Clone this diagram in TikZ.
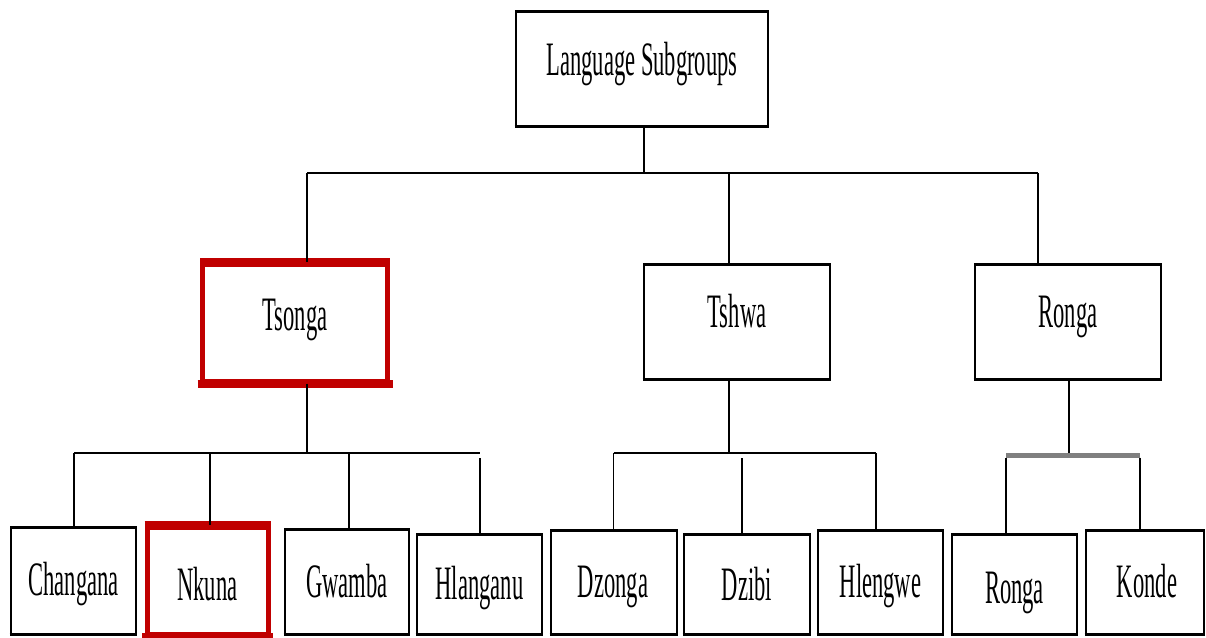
\documentclass[tikz,border=0pt]{standalone}
\usepackage{fontspec}
\setmainfont{Liberation Serif}[FakeStretch=0.47]
\usetikzlibrary{calc}
\definecolor{hired}{RGB}{192,0,0}
\definecolor{bargray}{RGB}{128,128,128}
\tikzset{
  box/.style={draw=black, line width=1.4pt, inner sep=0pt, fill=white},
  redbox/.style={draw=hired, line width=5pt, inner sep=0pt, fill=white},
  lbl/.style={anchor=base, inner sep=0pt, font=\fontsize{48}{52}\selectfont},
  vline/.style={line width=1.4pt},
  hline/.style={line width=2.8pt},
  boxedge/.style={line width=3pt, shorten <=-0.7pt, shorten >=-0.7pt},
  rededge/.style={draw=hired, line width=8pt, shorten <=-2.5pt, shorten >=-2.5pt},
}
\begin{document}
\begin{tikzpicture}[x=1pt, y=-1pt]
\useasboundingbox (0,0) rectangle (1206,637);
% level 1
\node[box, minimum width=252pt, minimum height=114pt] (root) at (642,69) {};
% level 2
\node[redbox, minimum width=185pt, minimum height=117pt] (tsonga) at (295,322.5) {};
\node[box, minimum width=186pt, minimum height=114pt] (tshwa) at (737,322) {};
\node[box, minimum width=186pt, minimum height=114pt] (ronga) at (1068,322) {};
% level 3
\node[box, minimum width=125pt, minimum height=106pt] (changana) at (73.5,581) {};
\node[redbox, minimum width=121pt, minimum height=107pt] (nkuna) at (207.5,580.5) {};
\node[box, minimum width=124pt, minimum height=104pt] (gwamba) at (347,582) {};
\node[box, minimum width=125pt, minimum height=99pt] (hlanganu) at (479.5,584.5) {};
\node[box, minimum width=126pt, minimum height=103pt] (dzonga) at (614,582.5) {};
\node[box, minimum width=126pt, minimum height=99pt] (dzibi) at (747,584.5) {};
\node[box, minimum width=125pt, minimum height=103pt] (hlengwe) at (880.5,582.5) {};
\node[box, minimum width=125pt, minimum height=99pt] (rongab) at (1014.5,584.5) {};
\node[box, minimum width=118pt, minimum height=103pt] (konde) at (1145,582.5) {};
% thicker top and bottom edges
\foreach \n in {root,tshwa,ronga,changana,gwamba,hlanganu,dzonga,dzibi,hlengwe,rongab,konde}
  \draw[boxedge] (\n.north west) -- (\n.north east) (\n.south west) -- (\n.south east);
\foreach \n in {tsonga,nkuna}
  \draw[rededge] (\n.north west) -- (\n.north east) (\n.south west) -- (\n.south east);
% labels
\node[lbl] (t-root) at (642,75) {Language Subgroups};
\node[lbl] (t-tsonga) at (295,330) {Tsonga};
\node[lbl] (t-tshwa) at (737,327) {Tshwa};
\node[lbl] (t-ronga) at (1068,327) {Ronga};
\node[lbl] (t-changana) at (73.5,595) {Changana};
\node[lbl] (t-nkuna) at (207.5,600) {Nkuna};
\node[lbl] (t-gwamba) at (347,597) {Gwamba};
\node[lbl] (t-hlanganu) at (479.5,599) {Hlanganu};
\node[lbl] (t-dzonga) at (613,597) {Dzonga};
\node[lbl] (t-dzibi) at (747,600) {Dzibi};
\node[lbl] (t-hlengwe) at (880.5,597) {Hlengwe};
\node[lbl] (t-rongab) at (1014.5,603) {Ronga};
\node[lbl] (t-konde) at (1147,597) {Konde};
% connectors: top level
\coordinate (c-root) at (644,173);
\coordinate (c-tsonga) at (307,173);
\coordinate (c-tshwa) at (729,173);
\coordinate (c-ronga) at (1038,173);
\draw[vline] (root.south -| c-root) -- (c-root);
\draw[hline] (c-tsonga) -- (c-ronga);
\draw[vline] (c-tsonga) -- (c-tsonga |- tsonga.north);
\draw[vline] (c-tshwa) -- (c-tshwa |- tshwa.north);
\draw[vline] (c-ronga) -- (c-ronga |- ronga.north);
% Tsonga group
\coordinate (d-tsonga) at (307,453);
\coordinate (d-changana) at (74,453);
\coordinate (d-nkuna) at (210,453);
\coordinate (d-gwamba) at (349,453);
\coordinate (d-hlanganu) at (480,453);
\coordinate (e-hlanganu) at (480,458);
\draw[vline] (tsonga.south -| d-tsonga) -- (d-tsonga);
\draw[hline] (d-changana) -- (d-hlanganu);
\draw[vline] (d-changana) -- (d-changana |- changana.north);
\draw[vline] (d-nkuna) -- (d-nkuna |- nkuna.north);
\draw[vline] (d-gwamba) -- (d-gwamba |- gwamba.north);
\draw[vline] (e-hlanganu) -- (e-hlanganu |- hlanganu.north);
% Tshwa group
\coordinate (d-tshwa) at (729,453);
\coordinate (d-dzonga) at (613.5,453);
\coordinate (e-dzibi) at (742,458);
\coordinate (d-hlengwe) at (876,453);
\draw[vline] (tshwa.south -| d-tshwa) -- (d-tshwa);
\draw[hline] (d-dzonga) -- (d-hlengwe);
\draw[vline] (d-dzonga) -- (d-dzonga |- dzonga.north);
\draw[vline] (e-dzibi) -- (e-dzibi |- dzibi.north);
\draw[vline] (d-hlengwe) -- (d-hlengwe |- hlengwe.north);
% Ronga group
\coordinate (d-ronga) at (1069,453);
\coordinate (d-rongab) at (1006,455);
\coordinate (d-konde) at (1140,455);
\draw[vline] (ronga.south -| d-ronga) -- (d-ronga);
\draw[draw=bargray, line width=5pt] (d-rongab) -- (d-konde);
\draw[vline] (d-rongab) ++(0,2.5) -- (d-rongab |- rongab.north);
\draw[vline] (d-konde) ++(0,2.5) -- (d-konde |- konde.north);
\end{tikzpicture}
\end{document}
